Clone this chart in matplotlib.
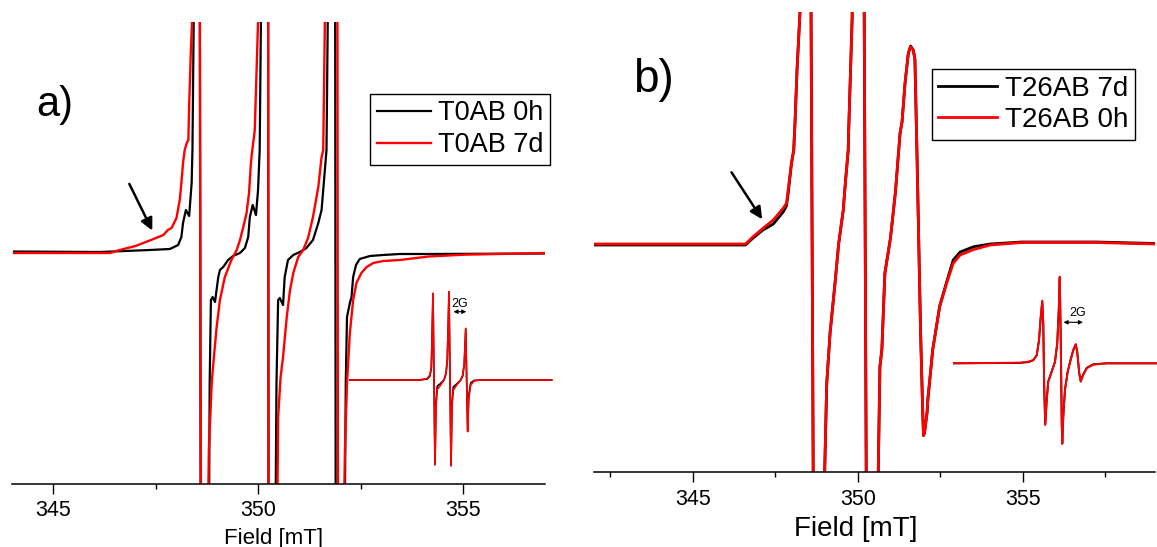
import matplotlib.pyplot as plt
from matplotlib.ticker import MultipleLocator

# ---- panel a) : T0AB ----
a_field_0h = [344.00, 346.13, 347.35, 347.84, 348.04, 348.12, 348.16, 348.23, 348.31, 348.37,
              348.39, 348.42, 348.43, 348.57, 348.59, 348.79, 348.81, 348.84, 348.88, 348.94,
              349.02, 349.06, 349.14, 349.26, 349.38, 349.55, 349.67, 349.75, 349.79, 349.86,
              349.94, 349.99, 350.03, 350.06, 350.07, 350.235, 350.245, 350.41, 350.44, 350.48,
              350.52, 350.60, 350.64, 350.72, 350.85, 351.01, 351.17, 351.33, 351.46, 351.54,
              351.58, 351.62, 351.66, 351.69, 351.70, 351.87, 351.885, 352.10, 352.13, 352.16,
              352.23, 352.27, 352.31, 352.38, 352.47, 352.72, 353.04, 353.45, 354.13, 357.00]
a_int_0h = [0.015, 0.01, 0.03, 0.04, 0.08, 0.16, 0.30, 0.43, 0.37, 0.70,
            1.03, 2.31, 3.0, 3.0, -3.0, -3.0, -1.30, -0.47, -0.44, -0.49,
            -0.24, -0.17, -0.14, -0.07, -0.03, 0.0, 0.05, 0.16, 0.36, 0.48,
            0.38, 0.63, 1.03, 2.31, 3.0, 3.0, -3.0, -3.0, -1.30, -0.47,
            -0.45, -0.52, -0.24, -0.07, -0.02, 0.01, 0.05, 0.13, 0.30, 0.43,
            0.63, 0.83, 1.03, 2.31, 3.0, 3.0, -3.0, -3.0, -1.30, -0.64,
            -0.50, -0.44, -0.24, -0.12, -0.06, -0.03, -0.02, -0.01, -0.01, -0.005]

a_field_7d = [344.00, 346.38, 346.57, 347.00, 347.44, 347.68, 347.79, 347.88, 348.00, 348.08,
              348.12, 348.16, 348.20, 348.25, 348.29, 348.31, 348.35, 348.38, 348.39, 348.565,
              348.60, 348.76, 348.79, 348.86, 348.90, 348.98, 349.06, 349.18, 349.34, 349.47,
              349.55, 349.63, 349.71, 349.77, 349.81, 349.83, 349.91, 349.99, 350.00, 350.235,
              350.25, 350.45, 350.48, 350.54, 350.60, 350.69, 350.77, 350.85, 350.97, 351.09,
              351.21, 351.33, 351.46, 351.54, 351.58, 351.62, 351.63, 351.925, 351.94, 352.07,
              352.11, 352.16, 352.23, 352.31, 352.39, 352.51, 352.64, 352.80, 353.04, 353.45,
              354.15, 355.01, 357.00]
a_int_7d = [0.0, 0.0, 0.025, 0.07, 0.14, 0.18, 0.23, 0.25, 0.35, 0.53,
            0.70, 0.90, 1.03, 1.10, 1.13, 1.48, 2.01, 2.31, 3.0, 3.0,
            -3.0, -3.0, -1.97, -1.30, -1.10, -0.74, -0.47, -0.24, -0.07, 0.03,
            0.13, 0.26, 0.40, 0.60, 0.86, 0.96, 1.23, 2.31, 3.0, 3.0,
            -3.0, -3.0, -1.64, -1.24, -1.04, -0.64, -0.37, -0.20, -0.04, 0.03,
            0.15, 0.36, 0.66, 0.96, 1.03, 2.31, 3.0, 3.0, -3.0, -3.0,
            -1.97, -1.30, -0.80, -0.47, -0.30, -0.20, -0.14, -0.10, -0.08, -0.07,
            -0.035, -0.017, 0.0]

# inset a)
ia_field = [347.918, 348.683, 348.763, 348.792, 348.807, 348.817, 348.825, 348.836, 348.847, 348.858,
            348.872, 348.902, 348.945, 348.967, 348.981, 348.992, 349.000, 349.011, 349.022, 349.033,
            349.047, 349.084, 349.128, 349.150, 349.167, 349.183, 349.193, 349.204, 349.215, 349.237,
            349.273, 349.339, 350.122]
ia_int_7d = [0.0, 0.0, 0.017, 0.05, 0.133, 0.50, 0.867, 0.0, -0.85, -0.267,
             -0.093, -0.06, 0.0, 0.067, 0.20, 0.567, 0.883, 0.0, -0.86, -0.267,
             -0.10, -0.05, 0.0, 0.05, 0.167, 0.517, 0.0, -0.517, -0.20, -0.05,
             -0.01, 0.0, 0.0]
ia_int_0h = [0.0, 0.0, 0.01, 0.04, 0.12, 0.50, 0.86, 0.0, -0.84, -0.22,
             -0.06, -0.04, 0.0, 0.06, 0.19, 0.56, 0.88, 0.0, -0.85, -0.22,
             -0.07, -0.04, 0.0, 0.04, 0.16, 0.51, 0.0, -0.50, -0.16, -0.03,
             -0.005, 0.0, 0.0]

# ---- panel b) : T26AB ----
b_field = [342.0, 346.60, 346.83, 347.13, 347.44, 347.74, 347.84, 347.89, 347.94, 347.99,
           348.06, 348.10, 348.16, 348.25, 348.27, 348.575, 348.66, 348.965, 349.00, 349.06,
           349.16, 349.31, 349.42, 349.56, 349.61, 349.64, 349.71, 349.72, 349.83, 349.85,
           350.185, 350.265, 350.585, 350.67, 350.73, 350.82, 350.99, 351.14, 351.28, 351.34,
           351.43, 351.51, 351.53, 351.60, 351.68, 351.73, 351.79, 351.90, 351.97, 351.99,
           352.02, 352.10, 352.12, 352.27, 352.48, 352.69, 352.89, 353.10, 353.51, 354.01,
           354.97, 357.20, 359.0]
b_int_0h = [0.0, 0.0, 0.073, 0.157, 0.24, 0.357, 0.407, 0.54, 0.673, 0.807,
            0.94, 1.22, 1.742, 2.318, 3.0, 3.0, -3.0, -3.0, -2.236, -1.393,
            -0.893, -0.393, 0.0, 0.34, 0.556, 0.673, 0.94, 1.09, 2.266, 3.0,
            3.0, -3.0, -3.0, -1.227, -1.05, -0.293, 0.06, 0.52, 1.107, 1.22,
            1.607, 1.847, 1.907, 1.973, 1.94, 1.847, 0.94, -0.86, -1.727, -1.915,
            -1.89, -1.677, -1.56, -1.055, -0.628, -0.393, -0.193, -0.11, -0.055, -0.01,
            0.015, 0.015, 0.0]
b_int_7d = [-0.01, -0.01, 0.06, 0.14, 0.20, 0.32, 0.38, 0.50, 0.65, 0.80,
            0.94, 1.22, 1.742, 2.318, 3.0, 3.0, -3.0, -3.0, -2.236, -1.393,
            -0.893, -0.393, 0.0, 0.34, 0.556, 0.673, 0.94, 1.09, 2.266, 3.0,
            3.0, -3.0, -3.0, -1.227, -1.05, -0.293, 0.06, 0.52, 1.107, 1.22,
            1.607, 1.847, 1.907, 1.98, 1.94, 1.847, 0.94, -0.86, -1.727, -1.915,
            -1.89, -1.677, -1.56, -1.055, -0.62, -0.38, -0.16, -0.08, -0.027, 0.0,
            0.02, 0.02, 0.005]

# inset b)
ib_field = [348.152, 348.680, 348.746, 348.786, 348.814, 348.832, 348.846, 348.858, 348.866, 348.874,
            348.882, 348.894, 348.906, 348.934, 348.960, 348.978, 348.990, 348.998, 349.006, 349.014,
            349.018, 349.026, 349.040, 349.062, 349.088, 349.106, 349.126, 349.138, 349.154, 349.166,
            349.182, 349.214, 349.266, 349.374, 349.774]
ib_int_0h = [0.0, 0.006, 0.016, 0.033, 0.083, 0.233, 0.466, 0.626, 0.40, -0.267,
             -0.617, -0.367, -0.184, -0.084, 0.016, 0.20, 0.533, 0.866, 0.233, -0.60,
             -0.807, -0.534, -0.267, -0.084, 0.05, 0.133, 0.19, 0.116, -0.10, -0.184,
             -0.127, -0.05, -0.014, 0.0, 0.0]
ib_int_7d = [0.0, 0.004, 0.012, 0.03, 0.08, 0.23, 0.46, 0.62, 0.40, -0.26,
             -0.61, -0.36, -0.18, -0.08, 0.016, 0.20, 0.53, 0.86, 0.23, -0.60,
             -0.80, -0.53, -0.26, -0.08, 0.05, 0.13, 0.19, 0.11, -0.10, -0.18,
             -0.12, -0.045, -0.01, 0.0, 0.0]

plt.rcParams['font.family'] = ['Liberation Sans', 'DejaVu Sans']

W, H = 1157, 547
fig = plt.figure(figsize=(W / 100, H / 100), dpi=100)


def rect(x0, y0, x1, y1):
    return [x0 / W, 1 - y1 / H, (x1 - x0) / W, (y1 - y0) / H]


def style(ax, pad):
    for s in ('top', 'left', 'right'):
        ax.spines[s].set_visible(False)
    ax.spines['bottom'].set_linewidth(1.1)
    ax.set_yticks([])
    ax.xaxis.set_major_locator(MultipleLocator(5))
    ax.xaxis.set_minor_locator(MultipleLocator(2.5))
    ax.tick_params(axis='x', which='major', direction='out', length=7.5, width=1.0,
                   labelsize=15.5, pad=pad)
    ax.tick_params(axis='x', which='minor', direction='out', length=3.8, width=1.0)
    ax.patch.set_visible(False)


# panel a
ax1 = fig.add_axes(rect(12.5, 22, 545.4, 484))
l1, = ax1.plot(a_field_0h, a_int_0h, color='black', lw=1.6, label='T0AB 0h')
l2, = ax1.plot(a_field_7d, a_int_7d, color='red', lw=1.7, label='T0AB 7d')
ax1.set_xlim(344, 357)
ax1.set_ylim(-2.31, 2.31)
style(ax1, 4)
ax1.set_xlabel('Field [mT]', fontsize=16)
ax1.xaxis.set_label_coords(0.489, -0.095)
ax1.annotate('', xy=(347.44, 0.20), xytext=(346.82, 0.716),
             arrowprops=dict(arrowstyle='-|>', color='black', lw=1.8, mutation_scale=18))
ax1.legend(handles=[l1, l2], loc='upper left', bbox_to_anchor=(370 / W, 1 - 93.5 / H),
           bbox_transform=fig.transFigure, fontsize=19.5, fancybox=False, edgecolor='black',
           framealpha=1, borderaxespad=0, handlelength=2.0, handletextpad=0.25,
           labelspacing=0.22, borderpad=0.25).get_frame().set_linewidth(1.0)
fig.text(36 / W, 1 - 105 / H, 'a)', fontsize=30, ha='left', va='center')

ax1i = fig.add_axes(rect(340, 280, 560, 480))
ax1i.plot(ia_field, ia_int_0h, color='black', lw=1.2)
ax1i.plot(ia_field, ia_int_7d, color='red', lw=1.2)
ax1i.set_xlim(347.809, 350.213)
ax1i.set_ylim(-1.0, 1.0)
ax1i.axis('off')
ax1i.annotate('', xy=(349.019, 0.683), xytext=(349.219, 0.683),
              arrowprops=dict(arrowstyle='<|-|>', color='black', lw=0.8, mutation_scale=6))
ax1i.text(349.12, 0.70, '2G', fontsize=9, ha='center', va='bottom')

# panel b
ax2 = fig.add_axes(rect(593.6, 12, 1155, 472))
m1, = ax2.plot(b_field, b_int_7d, color='black', lw=2.0, label='T26AB 7d')
m2, = ax2.plot(b_field, b_int_0h, color='red', lw=2.0, label='T26AB 0h')
ax2.set_xlim(342, 359)
ax2.set_ylim(-2.28, 2.32)
style(ax2, 5)
ax2.set_xlabel('Field [mT]', fontsize=20)
ax2.xaxis.set_label_coords(0.467, -0.095)
ax2.annotate('', xy=(347.15, 0.224), xytext=(346.13, 0.74),
             arrowprops=dict(arrowstyle='-|>', color='black', lw=1.8, mutation_scale=18))
ax2.legend(handles=[m1, m2], loc='upper left', bbox_to_anchor=(931.5 / W, 1 - 68.7 / H),
           bbox_transform=fig.transFigure, fontsize=20, fancybox=False, edgecolor='black',
           framealpha=1, borderaxespad=0, handlelength=2.1, handletextpad=0.3,
           labelspacing=0.2, borderpad=0.25).get_frame().set_linewidth(1.0)
fig.text(633 / W, 1 - 80 / H, 'b)', fontsize=33, ha='left', va='center')

ax2i = fig.add_axes(rect(940, 270, 1157, 460))
ax2i.plot(ib_field, ib_int_7d, color='black', lw=1.4)
ax2i.plot(ib_field, ib_int_0h, color='red', lw=1.4)
ax2i.set_xlim(348.04, 349.776)
ax2i.set_ylim(-0.967, 0.933)
ax2i.axis('off')
ax2i.annotate('', xy=(349.006, 0.41), xytext=(349.206, 0.41),
              arrowprops=dict(arrowstyle='<|-|>', color='black', lw=0.8, mutation_scale=6))
ax2i.text(349.138, 0.44, '2G', fontsize=9, ha='center', va='bottom')

fig.savefig('out.png', dpi=100)
